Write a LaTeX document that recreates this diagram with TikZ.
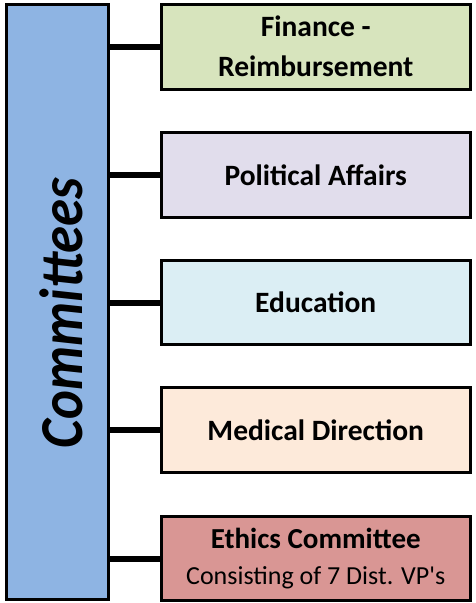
\documentclass[tikz,border=0pt]{standalone}
\usepackage{fontspec}
\setmainfont{Carlito}
\definecolor{barblue}{HTML}{8EB4E3}
\definecolor{cgreen}{HTML}{D7E4BD}
\definecolor{cpurple}{HTML}{E1DDEC}
\definecolor{cblue}{HTML}{DBEEF4}
\definecolor{cpeach}{HTML}{FDEADA}
\definecolor{cred}{HTML}{D99694}
\begin{document}
\begin{tikzpicture}[x=1pt,y=-1pt,
  cbox/.style={draw=black,line width=3pt,minimum width=308.5pt,minimum height=84.5pt,inner sep=0pt,align=center,font=\fontsize{29.5}{40}\selectfont\bfseries},
  link/.style={line width=6pt}]
\useasboundingbox (0,0) rectangle (475,603);
\node[draw=black,line width=3pt,fill=barblue,minimum width=102pt,minimum height=594.5pt,inner sep=0pt] (bar) at (57.5,301.75) {};
\node[rotate=90,anchor=base,xscale=0.9,font=\fontsize{61}{64}\selectfont\bfseries\itshape] (title) at (82,313) {Committees};
\node[cbox,fill=cgreen] (b1) at (315.75,46.75) {Finance -\\Reimbursement};
\node[cbox,fill=cpurple] (b2) at (315.75,175) {Political Affairs};
\node[cbox,fill=cblue] (b3) at (315.75,302.5) {Education};
\node[cbox,fill=cpeach] (b4) at (315.75,430) {Medical Direction};
\node[cbox,fill=cred,font=\fontsize{26}{36}\selectfont] (b5) at (315.75,558.5) {{\fontsize{29}{36}\selectfont\bfseries Ethics Committee}\\Consisting of 7 Dist. VP\textquotesingle s};
\foreach \b in {b1,b2,b3,b4,b5}{
  \draw[link] (bar.east |- \b.west) -- (\b.west);
}
\end{tikzpicture}
\end{document}
